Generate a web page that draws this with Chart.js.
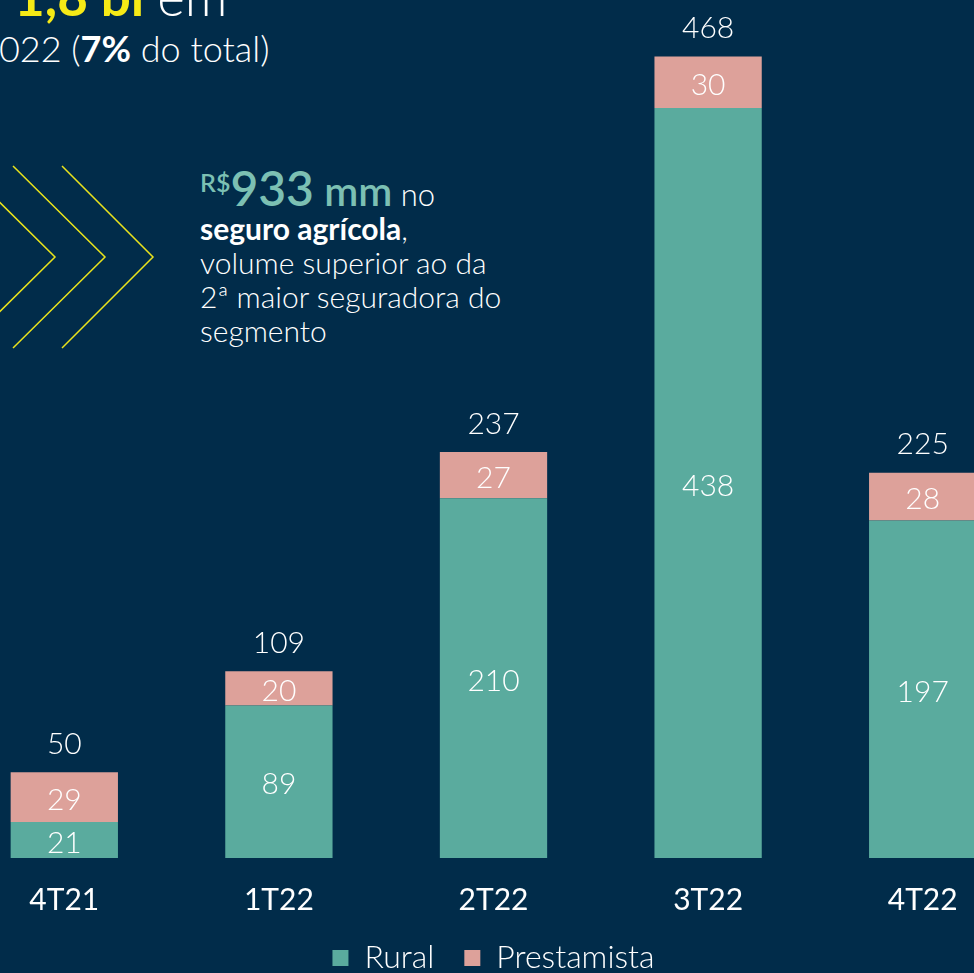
<!DOCTYPE html>
<html>
<head>
<meta charset="utf-8">
<script src="https://cdn.jsdelivr.net/npm/chart.js@4.4.1/dist/chart.umd.min.js"></script>
<style>
  html, body { margin: 0; padding: 0; width: 974px; height: 973px; overflow: hidden; background: #012c4a; }
  body { position: relative; font-family: Lato, "Open Sans", sans-serif; color: #fff; }
  #wrap { position: absolute; left: -43px; top: 0; width: 1073px; height: 984px; }
  .txt { position: absolute; white-space: nowrap; }
  #head1 { left: 14px; top: -36px; font-size: 53px; font-weight: 700; color: #f6ea16; }
  #head1 span { color: #fff; font-weight: 300; }
  #head2 { left: -22px; top: 26px; font-size: 36px; font-weight: 300; }
  #head2 b { font-weight: 700; }
  #line1 { left: 200px; top: 177px; font-size: 31px; font-weight: 300; line-height: 34px; }
  #line1 span { line-height: 0; }
  #line1 .big { color: #7cc0b3; font-weight: 600; }
  #note { left: 200px; top: 211px; font-size: 30px; font-weight: 300; line-height: 34px; }
  #note b { font-weight: 700; }
  svg { position: absolute; left: 0; top: 0; }
</style>
</head>
<body>
<svg width="200" height="400">
  <polyline points="-37,166 55,257 -37,348" fill="none" stroke="#e9e31c" stroke-width="1.5"/>
  <polyline points="13,166 105,257 13,348" fill="none" stroke="#e9e31c" stroke-width="1.5"/>
  <polyline points="62,166 153,257 62,348" fill="none" stroke="#e9e31c" stroke-width="1.5"/>
</svg>
<div class="txt" id="head1">1,8 bi <span>em</span></div>
<div class="txt" id="head2">2022 (<b>7%</b> do total)</div>
<div class="txt" id="line1"><span class="big" style="font-size:25px;vertical-align:14px">R$</span><span class="big" style="font-size:48px">933</span><span class="big" style="font-size:41px"> mm</span> no</div>
<div class="txt" id="note">
  <b>seguro agrícola</b>,<br>
  volume superior ao da<br>
  2ª maior seguradora do<br>
  segmento
</div>
<div id="wrap"><canvas id="chart"></canvas></div>
<script>
const quarters = ['4T21', '1T22', '2T22', '3T22', '4T22'];
const rural = [21, 89, 210, 438, 197];
const prestamista = [29, 20, 27, 30, 28];
const totals = [50, 109, 237, 468, 225];

const TEAL = '#5aab9e';
const PINK = '#dda19a';
const FONT = 'Lato, "Open Sans", sans-serif';

// draws the value inside each segment and the total on top
const valueLabels = {
  id: 'valueLabels',
  afterDatasetsDraw(chart) {
    const ctx = chart.ctx;
    ctx.save();
    ctx.fillStyle = '#fff';
    ctx.font = '300 30px ' + FONT;
    ctx.textAlign = 'center';
    ctx.textBaseline = 'middle';
    chart.data.datasets.forEach((ds, di) => {
      chart.getDatasetMeta(di).data.forEach((bar, i) => {
        ctx.fillText(ds.data[i], bar.x, (bar.y + bar.base) / 2 + 3);
      });
    });
    const top = chart.getDatasetMeta(1).data;
    top.forEach((bar, i) => {
      ctx.fillText(totals[i], bar.x, bar.y - 28);
    });
    ctx.restore();
  }
};

new Chart(document.getElementById('chart'), {
  type: 'bar',
  data: {
    labels: quarters,
    datasets: [
      { label: 'Rural', data: rural, backgroundColor: TEAL, borderWidth: 0 },
      { label: 'Prestamista', data: prestamista, backgroundColor: PINK, borderWidth: 0 },
    ],
  },
  options: {
    responsive: true,
    maintainAspectRatio: false,
    animation: false,
    layout: { padding: 0 },
    datasets: { bar: { categoryPercentage: 1, barPercentage: 0.5 } },
    plugins: {
      legend: {
        position: 'bottom',
        labels: {
          color: '#fff',
          boxWidth: 16,
          boxHeight: 16,
          padding: 30,
          font: { family: FONT, size: 32, weight: '300' },
        },
      },
      tooltip: { enabled: false },
    },
    scales: {
      x: {
        stacked: true,
        grid: { display: false },
        border: { display: false },
        ticks: { color: '#fff', padding: 16, font: { family: FONT, size: 30 } },
        afterFit(scale) { scale.height = 54; },
      },
      y: {
        stacked: true,
        display: false,
        min: 0,
        max: 501,
      },
    },
  },
  plugins: [valueLabels],
});
</script>
</body>
</html>
